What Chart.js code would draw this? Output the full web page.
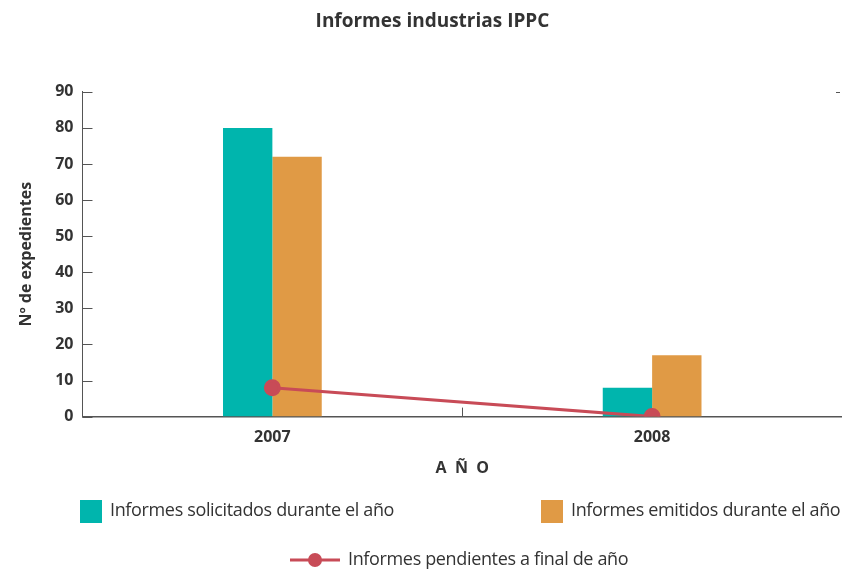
<!DOCTYPE html>
<html><head><meta charset="utf-8">
<script src="https://cdn.jsdelivr.net/npm/chart.js@4"></script>
<style>
html,body{margin:0;padding:0;background:#fff;}
#wrap{position:relative;width:842px;height:570px;overflow:hidden;font-family:"Open Sans",sans-serif;color:#333;}
canvas{position:absolute;left:0;top:0;}
.lg{position:absolute;font-size:18px;color:#333;white-space:nowrap;line-height:24px;letter-spacing:-0.35px;}
.box{display:inline-block;width:22px;height:23px;vertical-align:middle;margin-right:8px;}
</style></head><body>
<div id="wrap">
<canvas id="c" width="852" height="570"></canvas>
</div>
<script>
const categories = ["2007", "2008"];
const solicitados = [80, 8];
const emitidos = [72, 17];
const pendientes = [8, 0];
const seriesNames = ["Informes solicitados durante el año", "Informes emitidos durante el año", "Informes pendientes a final de año"];
const colors = {teal: "#00B5AD", orange: "#E09A45", red: "#C84B57", text: "#333333", axis: "#555555"};

const wrap = document.getElementById('wrap');
function addLegend(left, top, html){const d=document.createElement('div');d.className='lg';d.style.left=left+'px';d.style.top=top+'px';d.innerHTML=html;wrap.appendChild(d);}
addLegend(80, 497, '<span class="box" style="background:'+colors.teal+'"></span>'+seriesNames[0]);
addLegend(541, 497, '<span class="box" style="background:'+colors.orange+'"></span>'+seriesNames[1]);
addLegend(290, 546, '<svg width="52" height="24" style="vertical-align:middle;margin-right:6px"><line x1="0" y1="12" x2="50" y2="12" stroke="'+colors.red+'" stroke-width="3"/><circle cx="25" cy="12" r="7" fill="'+colors.red+'"/></svg>'+seriesNames[2]);

const innerTicks = {
  id: 'innerTicks',
  afterDraw(chart){
    const ctx = chart.ctx, y = chart.scales.y, x = chart.scales.x, a = chart.chartArea;
    ctx.save();
    ctx.strokeStyle = colors.axis; ctx.lineWidth = 1;
    y.ticks.forEach(t => {
      const py = Math.round(y.getPixelForValue(t.value)) + 0.5;
      ctx.beginPath(); ctx.moveTo(a.left, py); ctx.lineTo(a.left + 10, py); ctx.stroke();
    });
    const pTop = Math.round(y.getPixelForValue(y.max)) + 0.5;
    ctx.beginPath(); ctx.moveTo(842 - 6, pTop); ctx.lineTo(842 - 2, pTop); ctx.stroke();
    for (let i = 0; i < categories.length - 1; i++) {
      const px = Math.round((x.getPixelForValue(i) + x.getPixelForValue(i + 1)) / 2) + 0.5;
      ctx.beginPath(); ctx.moveTo(px, a.bottom); ctx.lineTo(px, a.bottom - 9); ctx.stroke();
    }
    ctx.restore();
  }
};

new Chart(document.getElementById('c'), {
  type: 'bar',
  data: {
    labels: categories,
    datasets: [
      {type: 'line', label: seriesNames[2], data: pendientes, borderColor: colors.red, backgroundColor: colors.red, borderWidth: 3, pointRadius: 7, pointHoverRadius: 7, order: 0},
      {label: seriesNames[0], data: solicitados, backgroundColor: colors.teal, categoryPercentage: 0.26, barPercentage: 1.0, order: 1},
      {label: seriesNames[1], data: emitidos, backgroundColor: colors.orange, categoryPercentage: 0.26, barPercentage: 1.0, order: 1}
    ]
  },
  plugins: [innerTicks],
  options: {
    responsive: false,
    animation: false,
    layout: {padding: {left: 13, right: 0, top: 0, bottom: 88}},
    plugins: {
      legend: {display: false},
      tooltip: {enabled: false},
      title: {display: true, text: 'Informes industrias IPPC', color: colors.text, font: {family: 'Open Sans', size: 19, weight: 'bold'}, padding: {top: 10, bottom: 59}}
    },
    scales: {
      x: {
        grid: {display: false},
        border: {display: true, color: colors.axis, width: 1.5},
        ticks: {color: colors.text, font: {family: 'Open Sans', size: 16, weight: 'bold'}, padding: 3},
        title: {display: true, text: 'A  Ñ  O', color: colors.text, font: {family: 'Open Sans', size: 16, weight: 'bold'}, padding: {top: 9}}
      },
      y: {
        min: 0, max: 90,
        grid: {display: false, drawTicks: false},
        border: {display: true, color: colors.axis, width: 1},
        ticks: {stepSize: 10, color: colors.text, font: {family: 'Open Sans', size: 16, weight: 'bold'}, padding: 9},
        title: {display: true, text: 'Nº de expedientes', color: colors.text, font: {family: 'Open Sans', size: 16, weight: 'bold'}, padding: {bottom: 10}}
      }
    }
  }
});
</script>
</body></html>
